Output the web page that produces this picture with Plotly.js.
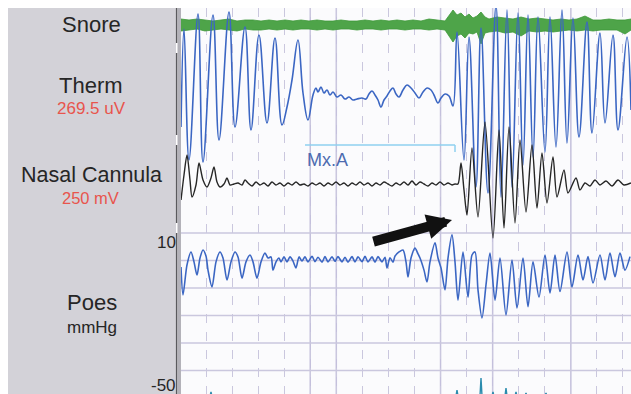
<!DOCTYPE html>
<html>
<head>
<meta charset="utf-8">
<script src="https://cdn.plot.ly/plotly-3.0.1.min.js"></script>
<style>html,body{margin:0;padding:0;background:#fff;}#chart{width:631px;height:394px;}</style>
</head>
<body>
<div id="chart"></div>
<script>
// ---- Data (x = samples at ~26 Hz, one grid division = 1 s) ----
const channelNames = ["Snore", "Therm", "Nasal Cannula", "Poes"];
const channelUnits = ["", "269.5 uV", "250 mV", "mmHg"];
const poesTickLabels = ["10", "-50"];
const eventLabel = "Mx.A";

const snoreX = [0,8,16,24,32,40,48,56,64,72,80,88,96,104,112,120,128,136,144,152,160,168,176,184,192,200,208,216,224,232,240,248,256,264,
  272,276,280,284,288,292,296,300,304,308,
  316,324,332,340,348,356,364,372,380,388,396,404,412,420,428,436,444,450];
const snoreUpper = [6,5,6,5,4,5,6,4,5,5,4,5,4,5,4,5,4,5,4,4,5,4,4,5,4,5,4,5,4,5,4,6,5,4,
  15,10,12,8,11,7,9,13,8,6,
  8,7,6,8,6,7,6,5,6,5,6,9,5,5,6,5,5,6];
const snoreLower = [-6,-5,-4,-6,-5,-4,-5,-6,-4,-5,-5,-4,-5,-4,-5,-4,-4,-5,-4,-5,-4,-4,-5,-4,-4,-5,-4,-4,-5,-4,-4,-5,-4,-5,
  -17,-11,-9,-13,-8,-9,-7,-19,-8,-7,
  -6,-8,-7,-11,-6,-7,-6,-7,-6,-5,-6,-5,-6,-5,-5,-5,-9,-5];

const thermX = [0,3,8,17,22,32,38,48,54,64,70,78,86,94,101,106,111,117,122,127,
  132,135,137,140,143,146,149,152,156,160,164,168,172,176,181,185,188,191,194,197,
  200,203,206,209,212,215,218,222,226,230,234,238,242,246,250,253,257,260,264,268,
  272,276,283,288,295,300,307,315,320,326,331,337,342,347,352,357,364,369,375,381,
  386,392,398,406,411,419,424,432,437,446,450];
const thermY = [-32,66,-65,81,-67,80,-45,83,-32,68,-35,60,-28,57,-30,-12,15,55,2,-25,
  0,7,3,8,2,5,0,3,-2,0,-4,-2,-5,-4,-3,-4,1,4,0,-5,
  -12,-5,-1,4,7,1,-2,5,10,7,2,-3,3,7,5,0,-8,-3,1,-1,
  -11,63,-65,58,-92,67,-98,90,-102,85,-92,82,-70,80,-62,78,-57,78,-52,85,
  -48,77,-42,73,-38,62,-28,60,-35,58,-15];

const nasalX = [0,3,6,9,11,15,18,22,26,30,33,36,39,43,46,49,53,57,61,64,
  67,71,75,79,83,87,91,95,99,103,107,111,115,119,123,127,131,135,139,143,
  147,151,155,159,163,167,171,175,179,183,187,191,195,199,203,207,211,215,219,223,
  227,231,235,239,243,247,251,255,259,263,267,271,274,
  277,280,283,286,291,297,304,312,318,323,328,334,339,345,351,356,361,366,372,376,
  383,387,395,399,404,409,414,419,425,431,437,443,450];
const nasalY = [-16,9,29,4,-13,-1,21,4,-3,6,17,2,-3,0,6,-1,0,1,-1,4,
  1,-2,2,-1,1,-2,2,-1,1,-2,1,-1,2,-1,0,-2,1,-1,1,-2,
  1,-1,2,-1,1,-2,1,-1,2,-1,1,-2,1,-1,2,0,-2,1,-1,2,
  -1,3,-1,2,0,-2,1,-1,2,-1,1,-1,0,
  0,21,-6,-31,36,-33,62,-54,54,-44,57,-39,44,-28,39,-24,31,-19,27,-13,
  14,-9,6,-6,1,-2,4,-1,3,-2,4,-1,1];

const poesX = [0,2,6,10,13,16,19,22,25,27,31,35,39,42,46,50,54,57,61,65,
  69,72,76,80,84,87,90,92,95,98,100,103,106,109,112,115,118,121,
  124,127,131,134,137,141,144,147,151,154,157,161,164,167,171,174,177,181,184,187,
  191,194,197,201,204,206,209,212,
  214,218,222,225,227,230,234,237,239,243,246,249,254,257,260,264,267,271,274,277,
  282,287,291,294,297,301,305,309,314,319,325,331,336,342,347,352,358,364,369,374,
  379,386,391,397,402,407,412,419,424,429,434,439,444,449];
const poesY = [-2.4,-12.5,-1.6,3.1,-0.5,-5.3,0.9,3.8,1.6,-3.5,-9.6,-0.5,3.1,0.9,-7.1,-0.5,3.1,1.3,-6.4,-0.5,
  2.0,-0.5,-6.4,-0.5,2.7,0.9,1.3,-3.5,-0.5,0.9,-0.5,1.3,-0.5,1.3,-0.2,-2.7,1.3,-0.2,
  1.3,-0.5,1.5,-0.4,1.2,-0.6,1.4,-0.5,1.3,-0.3,1.4,-0.5,1.2,-0.6,1.4,-0.5,1.3,-0.4,1.5,-0.5,
  1.3,-0.6,1.4,-0.5,1.2,-2.7,1.0,-0.6,
  1.6,3.1,3.8,-0.5,-6.0,0.9,4.5,2.4,0.9,-3.5,-7.8,-0.5,6.4,0.9,-2.7,-10.7,0.9,9.3,-0.5,-14.4,
  3.1,-13.3,2.0,3.1,-10.7,-20.9,-8.9,2.7,-14.4,0.9,-19.8,0.2,-17.3,0.9,-16.8,-0.5,-13.3,2.0,-11.8,2.0,
  -11.3,3.1,-9.6,2.0,-7.1,1.4,-8.2,2.0,-7.1,2.7,-5.9,2.7,-3.5,1.4];

const extraX = [0,28,29,30,31,32,274,275,276,277,278,298,299,300,301,302,310,311,312,313,323,324,325,326,334,335,336,344,345,346,364,365,366,367,450];
const extraY = [0,0,0,4,0,0,0,0,6,0,0,0,0,18,0,0,0,0,4,0,0,0,8,0,0,4,0,0,3,0,0,3,0,0,0];

const poesGridValues = [10,0,-10,-20,-30,-40];
const mxaStart = 124, mxaEnd = 274;
const solidGridIndex = [4,5,9,11,14];

// ---- Styling ----
const FONT = "Liberation Sans, Arial, sans-serif";
const gridColor = "#cac7de";
const tick0 = 25, dtick = 26.06;

const traces = [
  {x: snoreX, y: snoreUpper, xaxis:'x', yaxis:'y', mode:'lines', line:{color:'#3d9838', width:0.8}, hoverinfo:'skip'},
  {x: snoreX, y: snoreLower, xaxis:'x', yaxis:'y', mode:'lines', fill:'tonexty', fillcolor:'#4ea449', line:{color:'#3d9838', width:0.8}, hoverinfo:'skip'},
  {x: thermX, y: thermY, xaxis:'x', yaxis:'y2', mode:'lines', line:{color:'#3b66c3', width:1.6, shape:'spline', smoothing:1.1}},
  {x: nasalX, y: nasalY, xaxis:'x', yaxis:'y3', mode:'lines', line:{color:'#262626', width:1.4, shape:'spline', smoothing:0.8}},
  {x: poesX, y: poesY, xaxis:'x', yaxis:'y4', mode:'lines', line:{color:'#3b66c3', width:1.6, shape:'spline', smoothing:0.8}},
  {x: extraX, y: extraY, xaxis:'x', yaxis:'y5', mode:'lines', line:{color:'#2b8cae', width:1.4}}
];

const shapes = [];
const W = 450, H = 386;
const px = v => (v - 181) / W;          // page x -> paper
const py = v => (394 - v) / H;          // page y -> paper
// grey label panel
shapes.push({type:'rect', xref:'paper', yref:'paper', x0:px(8), x1:px(176), y0:0, y1:1, fillcolor:'#d3d2d8', line:{width:0}, layer:'below'});
shapes.push({type:'rect', xref:'paper', yref:'paper', x0:px(177.5), x1:0, y0:0, y1:1, fillcolor:'#b3b2b9', line:{width:0}, layer:'below'});
// channel brackets
[[8,43],[53,135],[145,223],[233,394]].forEach(s => {
  shapes.push({type:'line', xref:'paper', yref:'paper', x0:px(176.6), x1:px(176.6), y0:py(s[0]), y1:py(s[1]), line:{color:'#5a5a5e', width:1.4}});
});
// solid vertical lines
solidGridIndex.forEach(k => {
  const xv = tick0 + k*dtick;
  shapes.push({type:'line', xref:'x', yref:'paper', x0:xv, x1:xv, y0:0, y1:1, line:{color:'#c4c0dc', width:1.5}, layer:'below'});
});
// Poes horizontal grid
poesGridValues.forEach(v => {
  shapes.push({type:'line', xref:'paper', yref:'y4', x0:0, x1:1, y0:v, y1:v, line:{color:gridColor, width:1.6}, layer:'below'});
});
// Mx.A event bar
shapes.push({type:'line', xref:'x', yref:'paper', x0:mxaStart, x1:mxaEnd, y0:py(145), y1:py(145), line:{color:'#8fd0ef', width:1.5}});
shapes.push({type:'line', xref:'x', yref:'paper', x0:mxaEnd, x1:mxaEnd, y0:py(145), y1:py(152), line:{color:'#8fd0ef', width:1.5}});

const ann = (text, xp, yp, size, color, xanchor) => ({text, xref:'paper', yref:'paper', x:xp, y:yp, xanchor:xanchor||'center', yanchor:'middle', showarrow:false, borderpad:0, font:{family:FONT, size, color}});
const annotations = [
  ann(channelNames[0], px(91), py(24), 22, '#262626'),
  ann(channelNames[1], px(91), py(85), 22, '#262626'),
  ann(channelUnits[1], px(91), py(108), 17, '#e8554d'),
  ann(channelNames[2], px(91), py(174.5), 21.5, '#262626'),
  ann(channelUnits[2], px(90), py(197.5), 16.5, '#e8554d'),
  ann(channelNames[3], px(92), py(302), 22, '#262626'),
  ann(channelUnits[3], px(92), py(327), 17, '#262626'),
  ann(poesTickLabels[0], px(177), py(243), 17, '#262626', 'right'),
  ann(poesTickLabels[1], px(177), py(385), 17, '#262626', 'right'),
  {text: eventLabel, xref:'x', yref:'paper', x:mxaStart, y:py(160), xanchor:'left', yanchor:'middle', showarrow:false, font:{family:FONT, size:18, color:'#4d6bb0'}},
  {text:'', xref:'paper', yref:'paper', x:px(452), y:py(220), ax:-80, ay:22, showarrow:true, arrowhead:2, arrowsize:0.5, arrowwidth:10, arrowcolor:'#111111', standoff:0}
];

const hidden = r => ({range:r, visible:false, fixedrange:true});
const layout = {
  width:631, height:394,
  margin:{l:181, r:0, t:8, b:0},
  paper_bgcolor:'#ffffff', plot_bgcolor:'#fbfbfd',
  showlegend:false,
  xaxis:{range:[0,450], showgrid:true, gridcolor:gridColor, gridwidth:1, griddash:'dash', tick0:tick0, dtick:dtick, showticklabels:false, ticks:'', zeroline:false, showline:false},
  yaxis: hidden([-369,17]),
  yaxis2: Object.assign(hidden([-299,87]), {overlaying:'y'}),
  yaxis3: Object.assign(hidden([-210,176]), {overlaying:'y'}),
  yaxis4: Object.assign(hidden([-48.55,91.82]), {overlaying:'y'}),
  yaxis5: Object.assign(hidden([2,388]), {overlaying:'y'}),
  shapes, annotations
};

Plotly.newPlot('chart', traces, layout, {staticPlot:true, displayModeBar:false});
</script>
</body>
</html>
